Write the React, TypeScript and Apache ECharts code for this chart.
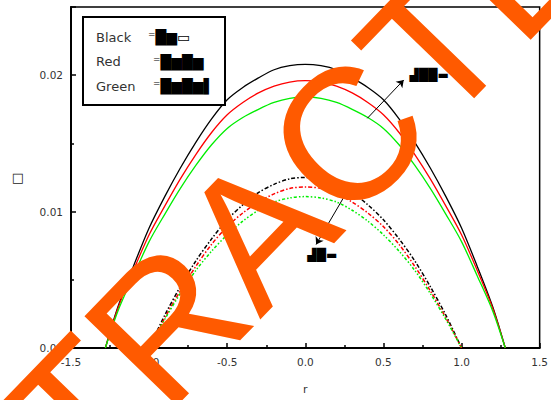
import React, { useEffect, useRef } from "react";
import * as echarts from "echarts";

// r values for the solid (outer) profiles and the dash-dot (inner) profiles
const rSolid = [-1.28, -1.2, -1.1, -1.0, -0.9, -0.8, -0.7, -0.6, -0.5, -0.4, -0.3, -0.2, -0.1, 0, 0.1, 0.2, 0.3, 0.4, 0.5, 0.6, 0.7, 0.8, 0.9, 1.0, 1.1, 1.2, 1.28];
const blackSolid = [0, 0.0030, 0.0060, 0.0088, 0.0111, 0.0132, 0.0151, 0.0168, 0.0182, 0.0191, 0.0198, 0.0204, 0.0207, 0.0208, 0.0207, 0.0204, 0.0198, 0.0191, 0.0182, 0.0168, 0.0151, 0.0132, 0.0111, 0.0088, 0.0060, 0.0030, 0];
const redSolid = [0, 0.0029, 0.0057, 0.0083, 0.0104, 0.0124, 0.0142, 0.0158, 0.0171, 0.0180, 0.0187, 0.0192, 0.0195, 0.0196, 0.0195, 0.0192, 0.0187, 0.0180, 0.0171, 0.0158, 0.0142, 0.0124, 0.0104, 0.0083, 0.0057, 0.0029, 0];
const greenSolid = [0, 0.0027, 0.0053, 0.0078, 0.0098, 0.0117, 0.0134, 0.0149, 0.0161, 0.0169, 0.0175, 0.0180, 0.0183, 0.0184, 0.0183, 0.0180, 0.0175, 0.0169, 0.0161, 0.0149, 0.0134, 0.0117, 0.0098, 0.0078, 0.0053, 0.0027, 0];

const rDashed = [-1.0, -0.9, -0.8, -0.7, -0.6, -0.5, -0.4, -0.3, -0.2, -0.1, 0, 0.1, 0.2, 0.3, 0.4, 0.5, 0.6, 0.7, 0.8, 0.9, 1.0];
const blackDashed = [0, 0.0024, 0.0045, 0.0064, 0.0080, 0.0094, 0.0105, 0.0114, 0.0120, 0.0124, 0.0125, 0.0124, 0.0120, 0.0114, 0.0105, 0.0094, 0.0080, 0.0064, 0.0045, 0.0024, 0];
const redDashed = [0, 0.0022, 0.0042, 0.0060, 0.0076, 0.0089, 0.0099, 0.0107, 0.0113, 0.0117, 0.0118, 0.0117, 0.0113, 0.0107, 0.0099, 0.0089, 0.0076, 0.0060, 0.0042, 0.0022, 0];
const greenDashed = [0, 0.0021, 0.0040, 0.0057, 0.0071, 0.0083, 0.0093, 0.0101, 0.0107, 0.0110, 0.0111, 0.0110, 0.0107, 0.0101, 0.0093, 0.0083, 0.0071, 0.0057, 0.0040, 0.0021, 0];

const legendNames = ["Black", "Red", "Green"];
const legendCodes = ["⁼█▆▭", "⁼█▆█▆", "⁼█▆█▆▌"];
const arrowLines = [
  [[0.397, 0.01684], [0.63, 0.01965]],
  [[0.246, 0.01105], [0.069, 0.00759]],
];
const arrowLabels = [
  { coord: [0.794, 0.02005], text: "▟██▬" },
  { coord: [0.11, 0.00679], text: "▟█▬" },
];

const zip = (xs: number[], ys: number[]) => xs.map((x, i) => [x, ys[i]]);

export default function App() {
  const ref = useRef<HTMLDivElement>(null);
  useEffect(() => {
    if (!ref.current) return;
    const chart = echarts.init(ref.current, null, { renderer: "svg" });
    const font = "DejaVu Sans";
    const solid = (name: string, color: string, data: number[]) => ({
      type: "line",
      name,
      data: zip(rSolid, data),
      smooth: 0.3,
      symbol: "none",
      lineStyle: { color, width: 1.3, type: "solid" },
      z: 3,
    });
    const dashed = (name: string, color: string, data: number[], dash: number[]) => ({
      type: "line",
      name,
      data: zip(rDashed, data),
      smooth: 0.3,
      symbol: "none",
      lineStyle: { color, width: 1.5, type: dash },
      z: 3,
    });
    const series: any[] = [
      solid("Black", "#000000", blackSolid),
      solid("Red", "#ff0000", redSolid),
      solid("Green", "#00ee00", greenSolid),
      dashed("Black 2", "#000000", blackDashed, [4, 2, 1.5, 2]),
      dashed("Red 2", "#ff0000", redDashed, [4, 2, 1.5, 2]),
      dashed("Green 2", "#00ee00", greenDashed, [3, 2, 1.5, 2, 1.5, 2]),
    ];
    series[0].markLine = {
      silent: true,
      animation: false,
      symbol: ["none", "arrow"],
      symbolSize: 7,
      label: { show: false },
      lineStyle: { color: "#000", width: 1, type: "solid" },
      data: arrowLines.map((l) => [{ coord: l[0] }, { coord: l[1] }]),
    };
    series[0].markPoint = {
      silent: true,
      animation: false,
      symbol: "circle",
      symbolSize: 1,
      itemStyle: { color: "rgba(0,0,0,0)" },
      label: { show: true, position: "inside", color: "#000", fontFamily: font, fontSize: 12, fontWeight: "bold" },
      data: arrowLabels.map((a) => ({ coord: a.coord, label: { formatter: a.text } })),
    };

    const legendGraphics: any[] = [
      {
        type: "rect",
        shape: { x: 83, y: 17, width: 142, height: 88 },
        style: { fill: "#fff", stroke: "#000", lineWidth: 2 },
        z: 10,
      },
    ];
    legendNames.forEach((n, i) => {
      legendGraphics.push({
        type: "text",
        x: 96,
        y: 37 + i * 24.5,
        style: { text: n, fontFamily: font, fontSize: 13, fill: "#333", verticalAlign: "middle", align: "left" },
        z: 11,
      });
      legendGraphics.push({
        type: "text",
        x: i === 0 ? 148 : 153,
        y: 37 + i * 24.5,
        style: { text: legendCodes[i], fontFamily: font, fontSize: 14, fill: "#000", verticalAlign: "middle", align: "left" },
        z: 11,
      });
    });

    chart.setOption({
      animation: false,
      grid: { left: 71, right: 4, top: 7, bottom: 47, show: true, borderColor: "#000", borderWidth: 1.5, backgroundColor: "#fff" },
      xAxis: {
        type: "value",
        min: -1.5,
        max: 1.5,
        interval: 0.5,
        name: "r",
        nameLocation: "middle",
        nameGap: 36,
        nameTextStyle: { fontFamily: font, fontSize: 11, color: "#333" },
        axisLine: { show: true, onZero: false, lineStyle: { color: "#000", width: 2 } },
        axisTick: { show: true, inside: true, length: 5, lineStyle: { color: "#000", width: 1.5 } },
        minorTick: { show: true, splitNumber: 2, length: 3, lineStyle: { color: "#000", width: 1.5 } },
        splitLine: { show: false },
        axisLabel: { margin: 8, fontFamily: font, fontSize: 10.5, color: "#333", formatter: (v: number) => v.toFixed(1) },
      },
      yAxis: {
        type: "value",
        min: 0,
        max: 0.025,
        interval: 0.01,
        name: "□",
        nameLocation: "middle",
        nameGap: 47,
        nameRotate: 0,
        nameTextStyle: { fontFamily: font, fontSize: 13, fontWeight: "bold", color: "#222" },
        axisLine: { show: true, onZero: false, lineStyle: { color: "#000", width: 2 } },
        axisTick: { show: true, inside: true, length: 5, lineStyle: { color: "#000", width: 1.5 } },
        minorTick: { show: true, splitNumber: 2, length: 3, lineStyle: { color: "#000", width: 1.5 } },
        splitLine: { show: false },
        axisLabel: { margin: 8, fontFamily: font, fontSize: 10.5, color: "#333", showMaxLabel: false, formatter: (v: number) => v.toFixed(2) },
      },
      series,
      graphic: [
        ...legendGraphics,
        {
          type: "text",
          x: 257,
          y: 230,
          rotation: (46 * Math.PI) / 180,
          silent: true,
          style: {
            text: "RETRACTED",
            fontFamily: "Liberation Sans",
            fontSize: 187,
            fill: "#ff5a00",
            align: "center",
            verticalAlign: "middle",
          },
          z: 100,
        },
      ],
    });
    return () => chart.dispose();
  }, []);
  return <div ref={ref} style={{ position: "fixed", left: 0, top: 0, width: 551, height: 400, background: "#fff" }} />;
}
